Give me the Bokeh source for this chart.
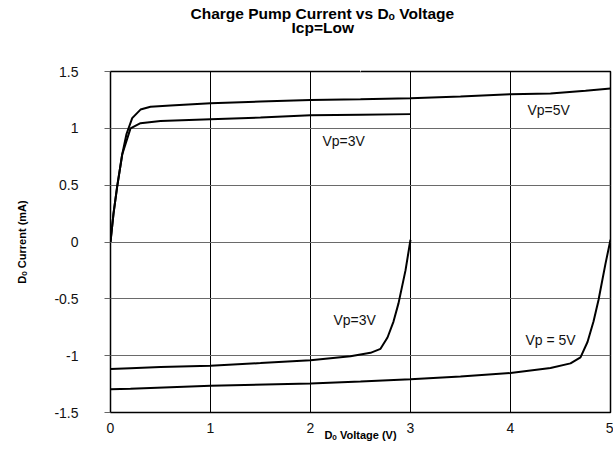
from bokeh.plotting import figure
from bokeh.models import Label, Range1d, FixedTicker, LinearAxis, Title
from bokeh.embed import file_html
from bokeh.resources import INLINE

# ---- data ----
x_up5 = [0, 0.03, 0.067, 0.117, 0.16, 0.217, 0.3, 0.4, 0.6, 1.0, 1.5, 2.0, 2.5, 3.0, 3.5, 4.0, 4.4, 4.75, 5.0]
y_up5 = [0, 0.25, 0.49, 0.77, 0.95, 1.09, 1.165, 1.19, 1.20, 1.22, 1.235, 1.25, 1.255, 1.265, 1.28, 1.30, 1.307, 1.33, 1.35]

x_up3 = [0, 0.03, 0.067, 0.117, 0.2, 0.3, 0.5, 1.0, 1.5, 2.0, 2.5, 3.0]
y_up3 = [0, 0.25, 0.49, 0.77, 1.0, 1.045, 1.065, 1.08, 1.095, 1.115, 1.12, 1.125]

x_dn3 = [0, 0.2, 0.5, 1.0, 1.5, 2.0, 2.4, 2.6, 2.7, 2.77, 2.83, 2.88, 2.95, 3.0]
y_dn3 = [-1.118, -1.11, -1.10, -1.089, -1.065, -1.04, -1.006, -0.975, -0.94, -0.84, -0.70, -0.54, -0.25, 0.02]

x_dn5 = [0, 0.2, 1.0, 2.0, 2.5, 3.0, 3.5, 4.0, 4.4, 4.6, 4.7, 4.77, 4.83, 4.88, 4.95, 5.0]
y_dn5 = [-1.295, -1.29, -1.265, -1.245, -1.227, -1.207, -1.183, -1.153, -1.109, -1.068, -1.015, -0.88, -0.70, -0.51, -0.19, 0.02]

x_ticks = [0, 1, 2, 3, 4, 5]
x_tick_labels = ["0", "1", "2", "3", "4", "5"]
y_ticks = [-1.5, -1, -0.5, 0, 0.5, 1, 1.5]
y_tick_labels = ["-1.5", "-1", "-0.5", "0", "0.5", "1", "1.5"]

title_main = "Charge Pump Current vs Dₒ Voltage"
title_sub = "Icp=Low"

curve_labels = ["Vp=3V", "Vp=5V", "Vp=3V", "Vp = 5V"]
curve_label_x = [2.12, 4.17, 2.23, 4.15]
curve_label_y = [0.885, 1.162, -0.69, -0.861]

FONT = "Liberation Sans"

p = figure(width=613, height=449, output_backend="svg", toolbar_location=None,
           x_range=Range1d(0, 5), y_range=Range1d(-1.5, 1.5),
           min_border_left=110, min_border_right=3, min_border_top=0, min_border_bottom=37)

p.background_fill_color = "white"
p.border_fill_color = "white"
p.outline_line_color = "black"
p.outline_line_width = 1.5

xa = p.below[0]
ya = p.left[0]

# invisible spacer right above the frame (one white tick, empty label)
spacer = LinearAxis(ticker=FixedTicker(ticks=[2.5]), major_tick_out=43, major_tick_in=0,
                    major_tick_line_color="white", major_label_standoff=0,
                    major_label_overrides={2.5: ""}, major_label_text_font_size="1px",
                    axis_line_color=None, minor_tick_line_color=None)
p.add_layout(spacer, "above")

# titles: main (outermost) and sub-title
p.title.text = title_main
p.title.align = "left"
p.title.offset = 80
p.title.vertical_align = "top"
p.title.text_font = FONT
p.title.text_font_size = "15.5px"
p.title.text_font_style = "bold"
p.title.text_color = "black"
p.title.standoff = 8
p.add_layout(Title(text=title_sub, align="left", offset=181, vertical_align="top",
                   text_font=FONT, text_font_size="15.5px", text_font_style="bold",
                   text_color="black", standoff=-18), "above")

# axes
for ax in (xa, ya):
    ax.axis_line_color = None
    ax.minor_tick_line_color = None
    ax.major_label_text_font = FONT
    ax.major_label_text_font_size = "14px"
    ax.major_label_text_color = "#111111"
    ax.axis_label_text_font = FONT
    ax.axis_label_text_font_size = "11px"
    ax.axis_label_text_font_style = "bold"
    ax.axis_label_text_color = "black"

xa.ticker = FixedTicker(ticks=x_ticks)
xa.major_label_overrides = {t: l for t, l in zip(x_ticks, x_tick_labels)}
xa.major_tick_line_color = None
xa.major_label_standoff = 4
xa.axis_label = "Dₒ Voltage (V)"
xa.axis_label_standoff = -7

ya.ticker = FixedTicker(ticks=y_ticks)
ya.major_label_overrides = {t: l for t, l in zip(y_ticks, y_tick_labels)}
ya.major_tick_in = 0
ya.major_tick_out = 6
ya.major_tick_line_color = "#666666"
ya.major_label_standoff = 26
ya.axis_label = "Dₒ Current (mA)"
ya.axis_label_standoff = 23

p.xgrid.ticker = FixedTicker(ticks=x_ticks)
p.ygrid.ticker = FixedTicker(ticks=y_ticks)
p.xgrid.grid_line_color = "black"
p.xgrid.grid_line_width = 1
p.ygrid.grid_line_color = "#6a6a6a"
p.ygrid.grid_line_width = 1.2

# curves
for xs, ys in ((x_up5, y_up5), (x_up3, y_up3), (x_dn3, y_dn3), (x_dn5, y_dn5)):
    p.line(xs, ys, line_color="black", line_width=2)

for t, lx, ly in zip(curve_labels, curve_label_x, curve_label_y):
    p.add_layout(Label(x=lx, y=ly, text=t, text_font=FONT, text_font_size="14px",
                       text_baseline="middle", text_align="left", text_color="#111111"))

open("out.html", "w").write(file_html(p, INLINE))
